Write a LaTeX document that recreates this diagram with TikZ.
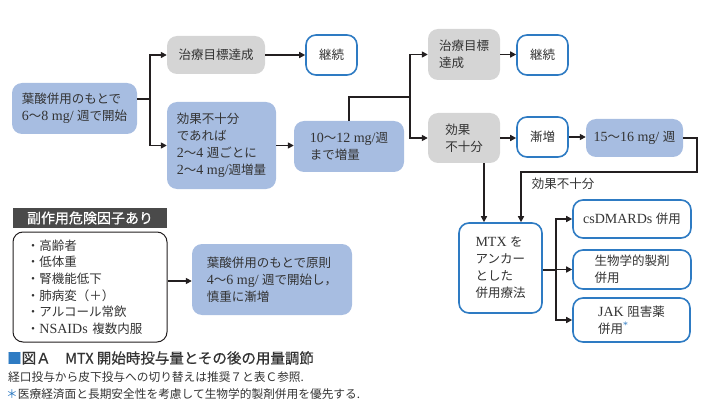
\documentclass[tikz,border=0pt]{standalone}
\usepackage{fontspec}
\setmainfont{Liberation Serif}[Scale=1.12]
\newfontfamily\jp{Noto Sans CJK JP}
\newfontfamily\jpm{Noto Sans CJK JP}[FakeBold=0.5]
\newcommand{\J}[1]{{\jp #1}}
\usetikzlibrary{arrows.meta,calc}
\definecolor{bfill}{HTML}{A7BDE1}
\definecolor{gfill}{HTML}{D5D5D5}
\definecolor{bline}{HTML}{2E7BC3}
\definecolor{ink}{HTML}{231F20}
\definecolor{txt}{HTML}{333333}
\definecolor{hdr}{HTML}{4A4A4A}
\tikzset{
  box/.style={rounded corners=10pt, inner sep=0pt, align=left, text=txt,
    font=\fontsize{12.5}{17}\selectfont},
  bluebox/.style={box, fill=bfill},
  graybox/.style={box, fill=gfill},
  whitebox/.style={box, fill=white, draw=bline, line width=1.6pt},
  arr/.style={draw=ink, line width=1.6pt, -{Triangle[length=6pt,width=6pt]}},
  ln/.style={draw=ink, line width=1.6pt},
}
\begin{document}
\begin{tikzpicture}[x=1pt,y=-1pt]
\useasboundingbox (0,0) rectangle (707,417);
% top row nodes
\node[bluebox, minimum width=125pt, minimum height=51pt] (N1) at (74.5,108.5)
  {\J{葉酸併用のもとで}\\6\J{～}8 mg/ \J{週で開始}};
\node[graybox, minimum width=98pt, minimum height=38pt] (N2) at (216,55) {\J{治療目標達成}};
\node[bluebox, minimum width=109pt, minimum height=87pt] (N3) at (221.5,145.5)
  {\J{効果不十分}\\\J{であれば}\\2\J{～}4 \J{週ごとに}\\2\J{～}4 mg/\J{週増量}};
\node[whitebox, minimum width=51pt, minimum height=40pt] (K1) at (331.5,55) {\J{継続}};
\node[bluebox, minimum width=110pt, minimum height=51pt] (N4) at (349,146.5)
  {10\J{～}12 mg/\J{週}\\\J{まで増量}};
\node[graybox, minimum width=72pt, minimum height=51pt] (G2) at (464,54.5) {\J{治療目標}\\\J{達成}};
\node[whitebox, minimum width=51pt, minimum height=40pt] (K2) at (542.5,55) {\J{継続}};
\node[graybox, minimum width=72pt, minimum height=50pt] (G3) at (464,138) {\J{効果}\\\J{不十分}};
\node[whitebox, minimum width=51pt, minimum height=40pt] (Z) at (542.5,137) {\J{漸増}};
\node[bluebox, minimum width=97pt, minimum height=38pt] (M15) at (634.5,138) {15\J{～}16 mg/ \J{週}};
\node[whitebox, minimum width=83pt, minimum height=90pt] (MTX) at (500.5,268)
  {MTX \J{を}\\\J{アンカー}\\\J{とした}\\\J{併用療法}};
\node[whitebox, minimum width=118pt, minimum height=38pt] (CS) at (632,219) {csDMARDs \J{併用}};
\node[whitebox, minimum width=118pt, minimum height=39pt] (BIO) at (632,269.5) {\J{生物学的製剤}\\\J{併用}};
\node[whitebox, minimum width=117pt, minimum height=44pt] (JAK) at (631.5,320)
  {JAK \J{阻害薬}\\\J{併用}\textsuperscript{\textcolor{bline}{*}}};
\node[text=txt, font=\jp\fontsize{12.5}{15}\selectfont] (L1) at (563,184) {効果不十分};
% connectors top
\draw[arr] ([yshift=9.5pt]N1.east) -- ++(13,0) coordinate (b1) |- (N2.west);
\draw[arr] (b1) |- (N3.west);
\draw[arr] (N2.east) -- (K1.west);
\draw[arr] (N3.east) -- (N3.east -| N4.west);
\coordinate (b2) at (410,97);
\draw[ln] (N4.north) |- (b2);
\draw[arr] (b2) |- (G2.west);
\draw[arr] (b2) |- (G3.west);
\draw[arr] (G2.east) -- (G2.east -| K2.west);
\draw[arr] (G3.east) -- (G3.east -| Z.west);
\draw[arr] (Z.east) -- (Z.east -| M15.west);
\draw[arr] (M15.east) -- ++(14,0) -- ++(0,34) -| ([xshift=20.5pt]MTX.north);
\draw[arr] ([xshift=20pt]G3.south) -- ([xshift=20pt]G3.south |- MTX.north);
\draw[ln] ([yshift=-2pt]MTX.east) -- ++(13,0) coordinate (b3);
\draw[arr] (b3) |- (CS.west);
\draw[arr] (b3) |- (BIO.west);
\draw[arr] (b3) |- (JAK.west);
% bottom-left
\node[fill=hdr, text=white, minimum width=154pt, minimum height=20pt, inner sep=0pt,
  font=\jpm\fontsize{14}{16}\selectfont] (H) at (90,218) {副作用危険因子あり};
\node[box, draw=ink, line width=1pt, fill=white, text width=126pt, inner xsep=14pt,
  minimum height=110pt, font=\fontsize{12.5}{16.6}\selectfont] (LST) at (90,287)
  {\J{・高齢者}\\\J{・低体重}\\\J{・腎機能低下}\\\J{・肺病変（＋）}\\\J{・アルコール常飲}\\\J{・}NSAIDs \J{複数内服}};
\node[bluebox, minimum width=160pt, minimum height=71pt] (S) at (272,279.5)
  {\J{葉酸併用のもとで原則}\\4\J{～}6 mg/ \J{週で開始し，}\\\J{慎重に漸増}};
\draw[arr] ([yshift=6pt]LST.east) -- ([yshift=6pt]LST.east -| S.west);
% caption
\node[anchor=west, inner sep=0pt, text=txt, font=\jpm\fontsize{14.5}{16}\selectfont] (C1) at (7,358)
  {\textcolor{bline}{■}図Ａ　MTX 開始時投与量とその後の用量調節};
\node[anchor=west, inner sep=0pt, text=txt, font=\jp\fontsize{11.7}{13}\selectfont] (C2) at (8,377)
  {経口投与から皮下投与への切り替えは推奨７と表Ｃ参照.};
\node[anchor=west, inner sep=0pt, text=txt, font=\jp\fontsize{11.7}{13}\selectfont] (C3) at (6,394)
  {\textcolor{bline}{＊}医療経済面と長期安全性を考慮して生物学的製剤併用を優先する.};
\end{tikzpicture}
\end{document}
